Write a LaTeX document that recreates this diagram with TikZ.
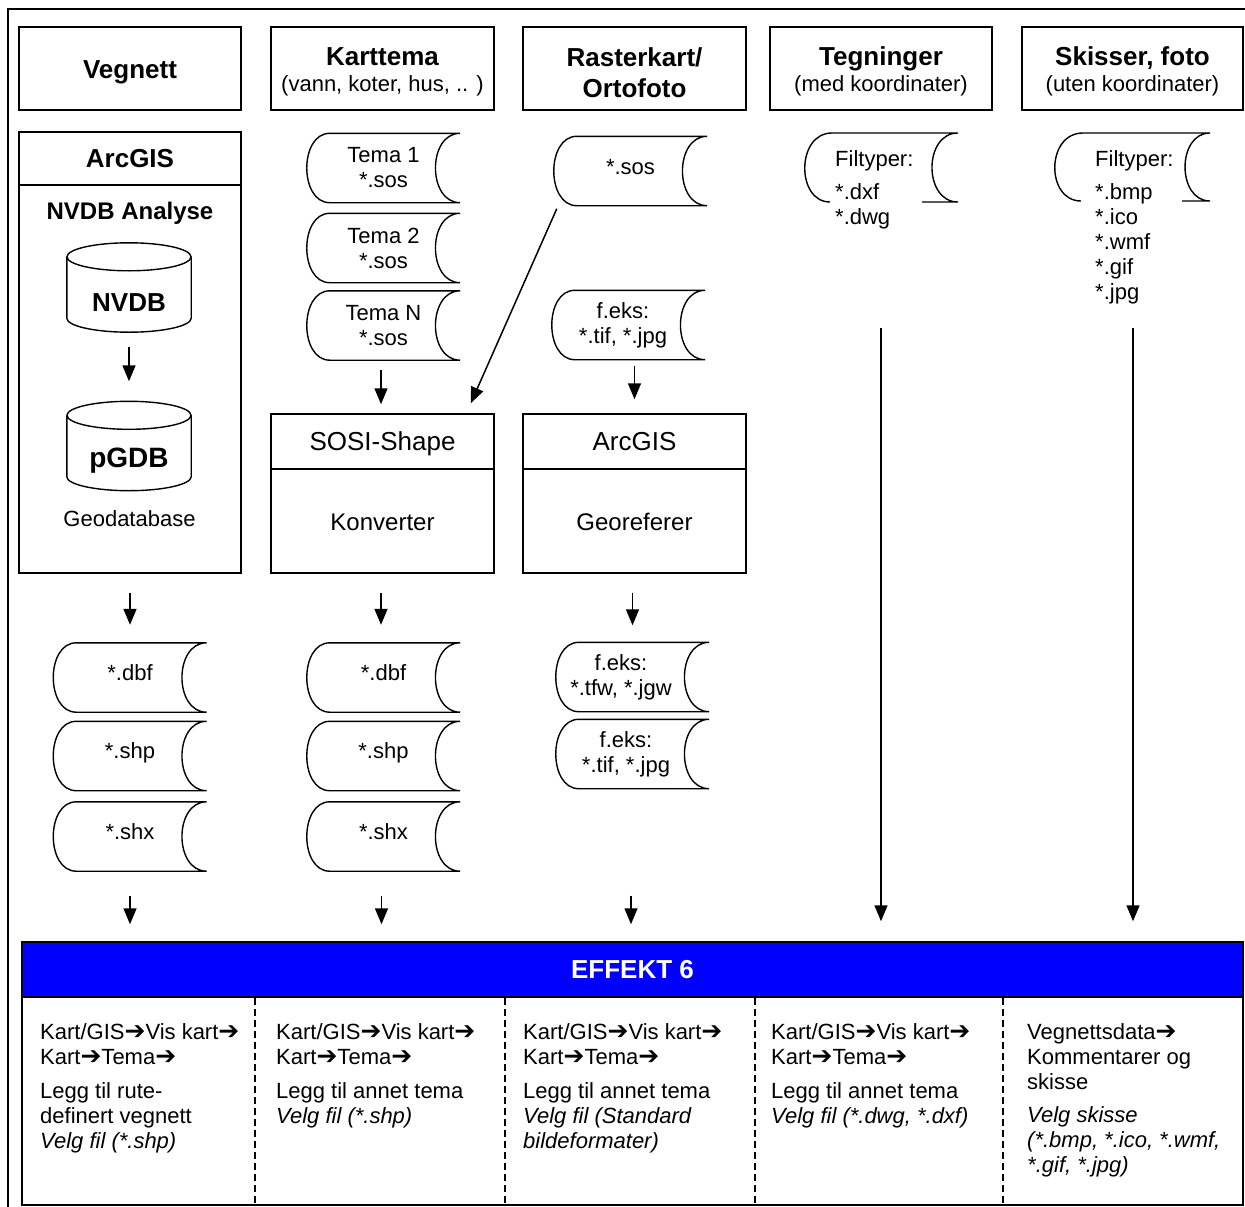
\documentclass[tikz,border=0pt]{standalone}
\usepackage{fontspec}
\setmainfont{Liberation Sans}
\newfontfamily\symfont{DejaVu Sans}
\usetikzlibrary{arrows.meta}

% heavy right arrow used in the menu paths
\newcommand\harr{{\symfont\fontsize{25}{25}\selectfont ➔}}

% outline of a "stored data" symbol around node #2, optionally moved right by #1
\newcommand\sdout[2][0pt]{%
  \draw[shp] ([xshift=23pt+#1]#2.north west) -- ([xshift=#1]#2.north east)
    .. controls ([xshift=-33pt+#1]#2.north east) and ([xshift=-33pt+#1]#2.south east) .. ([xshift=#1]#2.south east)
    -- ([xshift=23pt+#1]#2.south west)
    .. controls ([xshift=-7.7pt+#1]#2.south west) and ([xshift=-7.7pt+#1]#2.north west) .. cycle;}

% outline of a database cylinder around node #1
\newcommand\cylout[1]{%
  \draw[shp] ([yshift=-14pt]#1.north) ellipse [x radius=62pt, y radius=14pt];
  \draw[shp] ([yshift=-14pt]#1.north west) -- ([yshift=14pt]#1.south west)
    .. controls ([yshift=6.27pt]#1.south west) and ([xshift=27.8pt]#1.south west) .. (#1.south)
    .. controls ([xshift=-27.8pt]#1.south east) and ([yshift=6.27pt]#1.south east) .. ([yshift=14pt]#1.south east)
    -- ([yshift=-14pt]#1.north east);}

% lift a one-line label without changing its box
\newcommand\up[2]{\raisebox{#1}[\height][\depth]{#2}}

\begin{document}
\begin{tikzpicture}[x=1pt,y=-1pt,
  every node/.style={inner sep=0pt, align=center, font=\fontsize{22}{25}\selectfont},
  frame/.style={line width=2.5pt},
  box/.style={draw, line width=1.5pt},
  shp/.style={line width=1.4pt},
  sd/.style={minimum width=153pt, minimum height=69pt},
  cyl/.style={minimum width=124pt, minimum height=89pt},
  hd/.style={anchor=base, font=\fontsize{26}{29}\selectfont\bfseries},
  big/.style={anchor=base, font=\fontsize{26}{29}\selectfont},
  mid/.style={anchor=base, font=\fontsize{24}{27}\selectfont},
  txt/.style={anchor=base},
  flow/.style={line width=1.5pt, -{Triangle[width=13pt,length=16pt]}},
  sep/.style={line width=1.3pt, dash pattern=on 7pt off 4pt},
  cell/.style={anchor=north west, align=left},
]
\useasboundingbox (0,0) rectangle (1245,1207);

% outer frame
\draw[frame] (8,1212) -- (8,9) -- (1250,9);

% ---------- column 1: Vegnett ----------
\node[box, minimum width=222pt, minimum height=83pt] (hveg) at (130,68.5) {};
\node[hd] (hvegt) at (130,78.3) {Vegnett};
\node[box, minimum width=222pt, minimum height=441pt] (arcv) at (130,352.5) {};
\draw[box] (19,185) -- (241,185);
\node[hd] (arcvt) at (130,167.3) {ArcGIS};
\node[anchor=base, font=\fontsize{24}{27}\selectfont\bfseries] (nvdba) at (130,219.6) {NVDB Analyse};
\node[cyl] (nvdb) at (129,287.5) {};
\cylout{nvdb}
\node[hd] (nvdbt) at (129,311.8) {NVDB};
\node[cyl] (pgdb) at (129,446) {};
\cylout{pgdb}
\node[anchor=base, font=\fontsize{28}{30}\selectfont\bfseries] (pgdbt) at (129,467) {pGDB};
\node[txt] (geo) at (129.5,526) {Geodatabase};
\draw[flow, shorten <=15pt, shorten >=20pt] (nvdb.south) -- (pgdb.north);

\node[sd] (vdbf) at (130,677.5) {\up{5pt}{*.dbf}};  \sdout{vdbf}
\node[sd] (vshp) at (130,756) {\up{3pt}{*.shp}};    \sdout{vshp}
\node[sd] (vshx) at (130,836.5) {\up{5pt}{*.shx}};  \sdout{vshx}
\draw[flow, shorten <=19pt, shorten >=18pt] (arcv.south) -- (vdbf.north);

% ---------- column 2: Karttema ----------
\node[box, minimum width=223pt, minimum height=83pt] (hkart) at (382.5,68.5) {};
\node[hd] (hkartt) at (382.5,65.3) {Karttema};
\node[txt] (hkarts) at (382.5,92) {(vann, koter, hus, .. )};
\node[sd] (t1) at (383.5,168) {Tema 1\\*.sos};  \sdout{t1}
\node[sd] (t2) at (383.5,248) {Tema 2\\*.sos};  \sdout{t2}
\node[sd] (tN) at (383.5,325.5) {Tema N\\*.sos}; \sdout{tN}
\node[box, minimum width=223pt, minimum height=159pt] (sosi) at (382.5,493.5) {};
\draw[box] (271,469) -- (494,469);
\node[big] (sosit) at (382.5,450.3) {SOSI-Shape};
\node[mid] (sosik) at (382.5,530.6) {Konverter};
\draw[flow, shorten <=10pt, shorten >=9pt] ([xshift=-1.5pt]sosi.north |- tN.south) -- ([xshift=-1.5pt]sosi.north);
\node[sd] (kdbf) at (383.5,677.5) {\up{5pt}{*.dbf}};  \sdout{kdbf}
\node[sd] (kshp) at (383.5,756) {\up{3pt}{*.shp}};    \sdout{kshp}
\node[sd] (kshx) at (383.5,836.5) {\up{5pt}{*.shx}};  \sdout{kshx}
\draw[flow, shorten <=19pt, shorten >=18pt] ([xshift=-1.5pt]sosi.south) -- ([xshift=-1.5pt]sosi.south |- kdbf.north);

% ---------- column 3: Rasterkart / Ortofoto ----------
\node[box, minimum width=223pt, minimum height=83pt] (hrast) at (634.5,68.5) {};
\node[hd] (hrastt) at (634.5,66.3) {Rasterkart/};
\node[hd] (hrasto) at (634.5,97.3) {Ortofoto};
\node[sd] (sos) at (630.5,171) {\up{4pt}{*.sos}};  \sdout{sos}
\node[sd] (feks1) at (623,325) {f.eks:\\*.tif, *.jpg};  \sdout[5.5pt]{feks1}
\node[box, minimum width=223pt, minimum height=159pt] (arcr) at (634.5,493.5) {};
\draw[box] (523,469) -- (746,469);
\node[big] (arcrt) at (634.5,450.3) {ArcGIS};
\node[mid] (arcrg) at (634.5,530.6) {Georeferer};
\draw[flow, shorten <=6pt, shorten >=14pt] (arcr.north |- feks1.south) -- (arcr.north);
\draw[flow] ([xshift=3pt,yshift=-3pt]sos.south west) -- ([xshift=-24pt,yshift=10pt]sosi.north east);
\node[sd] (out1) at (621,677) {f.eks:\\*.tfw, *.jgw};  \sdout[11.5pt]{out1}
\node[sd] (out2) at (626,754) {f.eks:\\*.tif, *.jpg};  \sdout[6.5pt]{out2}
\draw[flow, shorten <=19pt, shorten >=17pt] ([xshift=-2pt]arcr.south) -- ([xshift=-2pt]arcr.south |- out1.north);

% ---------- column 4: Tegninger ----------
\node[box, minimum width=222pt, minimum height=83pt] (hteg) at (881,68.5) {};
\node[hd] (htegt) at (881,65.3) {Tegninger};
\node[txt] (htegs) at (881,92) {(med koordinater)};
\draw[shp] (922,202) -- (958,202)
  .. controls (923.3,202) and (923.3,133) .. (958,133) -- (832,133)
  .. controls (796,133) and (796,202) .. (830,202);
\node[cell] (tegft) at (835,150) {Filtyper:\\[8pt]*.dxf\\*.dwg};
\coordinate (tegtop) at (881,328);

% ---------- column 5: Skisser, foto ----------
\node[box, minimum width=221pt, minimum height=83pt] (hsk) at (1132.5,68.5) {};
\node[hd] (hskt) at (1132.5,65.3) {Skisser, foto};
\node[txt] (hsks) at (1132.5,92) {(uten koordinater)};
\draw[shp] (1182,201) -- (1210,201)
  .. controls (1176.7,201) and (1176.7,133) .. (1210,133) -- (1083,133)
  .. controls (1045.7,133) and (1045.7,201) .. (1081,201);
\node[cell] (skft) at (1095,150) {Filtyper:\\[8pt]*.bmp\\*.ico\\*.wmf\\*.gif\\*.jpg};
\coordinate (sktop) at (1133,328);

% ---------- EFFEKT 6 ----------
\node[box, fill=blue, minimum width=1221pt, minimum height=55pt] (effekt) at (632.5,969.5) {};
\node[hd, text=white] (effektt) at (632.5,978.8) {EFFEKT 6};
\node[box, minimum width=1221pt, minimum height=208pt] (effbody) at (632.5,1101) {};
\foreach \xx in {255,505,755,1003} \draw[sep] (\xx,998) -- (\xx,1205);

% arrows into EFFEKT 6
\draw[flow, shorten <=25pt, shorten >=17pt] (vshx.south) -- (vshx.south |- effekt.north);
\draw[flow, shorten <=25pt, shorten >=17pt] ([xshift=-2pt]kshx.south) -- ([xshift=-2pt]kshx.south |- effekt.north);
\draw[flow, shorten <=107pt, shorten >=17pt] ([xshift=5pt]out2.south) -- ([xshift=5pt]out2.south |- effekt.north);
\draw[flow, shorten >=20pt] (tegtop) -- (tegtop |- effekt.north);
\draw[flow, shorten >=20pt] (sktop) -- (sktop |- effekt.north);

% menu paths
\node[cell] (c1) at (40,1023) {Kart/GIS\harr Vis kart\harr\\Kart\harr Tema\harr\\[9pt]Legg til rute-\\definert vegnett\\\textit{Velg fil (*.shp)}};
\node[cell] (c2) at (276,1023) {Kart/GIS\harr Vis kart\harr\\Kart\harr Tema\harr\\[9pt]Legg til annet tema\\\textit{Velg fil (*.shp)}};
\node[cell] (c3) at (523,1023) {Kart/GIS\harr Vis kart\harr\\Kart\harr Tema\harr\\[9pt]Legg til annet tema\\\textit{Velg fil (Standard}\\\textit{bildeformater)}};
\node[cell] (c4) at (771,1023) {Kart/GIS\harr Vis kart\harr\\Kart\harr Tema\harr\\[9pt]Legg til annet tema\\\textit{Velg fil (*.dwg, *.dxf)}};
\node[cell] (c5) at (1027,1023) {Vegnettsdata\harr\\Kommentarer og\\skisse\\[8pt]\textit{Velg skisse}\\\textit{(*.bmp, *.ico, *.wmf,}\\\textit{*.gif, *.jpg)}};
\end{tikzpicture}
\end{document}
